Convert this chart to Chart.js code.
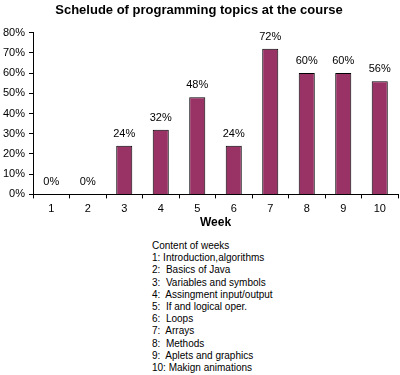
<!DOCTYPE html>
<html>
<head>
<meta charset="utf-8">
<script src="https://cdn.jsdelivr.net/npm/chart.js@4/dist/chart.umd.min.js"></script>
<style>
  html, body { margin: 0; padding: 0; background: #fff; }
  #wrap { position: relative; width: 400px; height: 375px; }
  #chartBox { position: absolute; left: 0; top: 0; width: 400px; height: 230px; }
  #legendText {
    position: absolute; left: 152px; top: 240px;
    font: 10px "Liberation Sans", Arial, sans-serif; color: #000; line-height: 12.2px;
  }
</style>
</head>
<body>
<div id="wrap">
  <div id="chartBox"><canvas id="bar"></canvas></div>
  <div id="legendText"></div>
</div>
<script>
// weeks and share of topics covered
const weeks = ['1','2','3','4','5','6','7','8','9','10'];
const percents = [0, 0, 24, 32, 48, 24, 72, 60, 60, 56];
const yTicks = [0, 10, 20, 30, 40, 50, 60, 70, 80];
const contentLines = [
  'Content of weeks',
  '1: Introduction,algorithms',
  '2:  Basics of Java',
  '3:  Variables and symbols',
  '4:  Assingment input/output',
  '5:  If and logical oper.',
  '6:  Loops',
  '7:  Arrays',
  '8:  Methods',
  '9:  Aplets and graphics',
  '10: Makign animations'
];

document.getElementById('legendText').innerHTML = contentLines.map(l => `<div style="white-space:pre">${l}</div>`).join('');

const font = '"Liberation Sans", Arial, sans-serif';

// value labels above bars
const valueLabels = {
  id: 'valueLabels',
  afterDatasetsDraw(chart) {
    const ctx = chart.ctx;
    const meta = chart.getDatasetMeta(0);
    ctx.save();
    ctx.font = '11px ' + font;
    ctx.fillStyle = '#000';
    ctx.textAlign = 'center';
    ctx.textBaseline = 'middle';
    meta.data.forEach((bar, i) => {
      ctx.fillText(percents[i] + '%', bar.x, bar.y - 12);
    });
    ctx.restore();
  }
};

new Chart(document.getElementById('bar'), {
  type: 'bar',
  data: {
    labels: weeks,
    datasets: [{
      data: percents,
      backgroundColor: '#993366',
      borderColor: '#000',
      borderWidth: 1,
      barPercentage: 0.44,
      categoryPercentage: 1
    }]
  },
  options: {
    responsive: true,
    maintainAspectRatio: false,
    animation: false,
    layout: { padding: { left: 0, right: 2, top: 0, bottom: 0 } },
    plugins: {
      legend: { display: false },
      tooltip: { enabled: false },
      title: {
        display: true,
        text: 'Schelude of programming topics at the course',
        color: '#000',
        font: { family: font, size: 13, weight: 'bold' },
        padding: { top: 3, bottom: 14 }
      }
    },
    scales: {
      x: {
        grid: { drawOnChartArea: false, drawTicks: true, tickLength: 4, color: '#000', offset: true },
        border: { color: '#000' },
        ticks: { color: '#000', font: { family: font, size: 11 }, padding: 4 },
        title: { display: true, text: 'Week', color: '#000', font: { family: font, size: 12, weight: 'bold' }, padding: { top: -4, bottom: 0 } }
      },
      y: {
        min: 0, max: 80,
        afterBuildTicks: s => { s.ticks = yTicks.map(v => ({ value: v })); },
        afterFit: s => { s.width = 33; },
        grid: { drawOnChartArea: false, drawTicks: true, tickLength: 4, color: '#000' },
        border: { color: '#000' },
        ticks: { color: '#000', font: { family: font, size: 11 }, padding: 4, callback: v => v + '%' }
      }
    }
  },
  plugins: [valueLabels]
});
</script>
</body>
</html>
